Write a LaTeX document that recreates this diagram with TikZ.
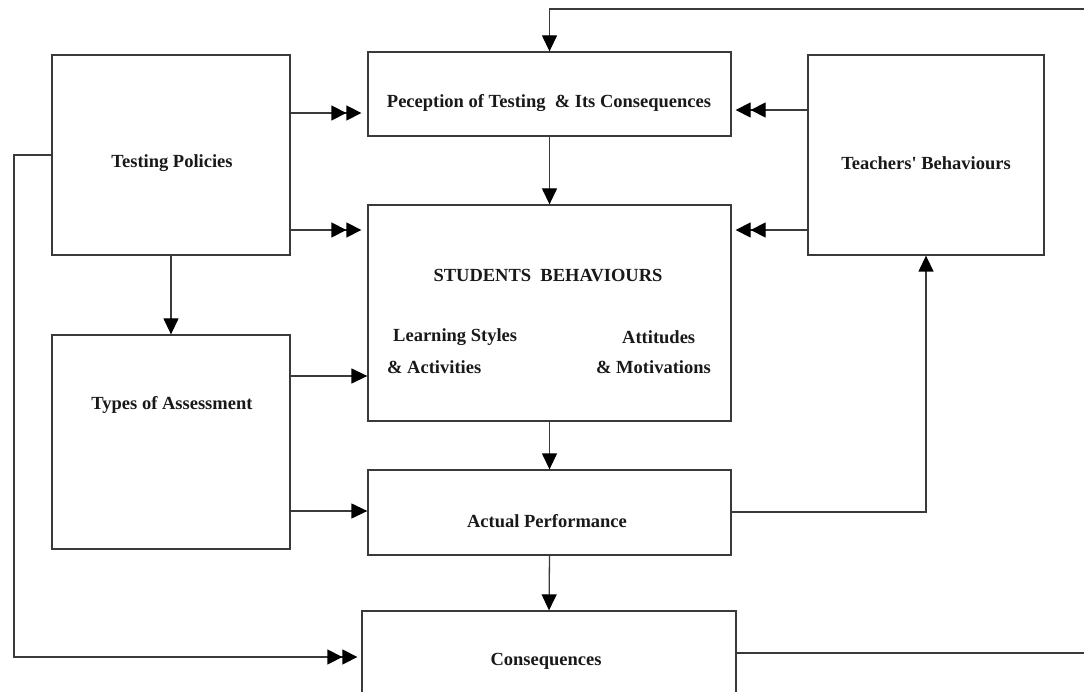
\documentclass[tikz,border=0pt]{standalone}
\usepackage{fontspec}
\setmainfont{Liberation Serif}
\newfontfamily\quotefont{Liberation Serif}
\usetikzlibrary{arrows.meta,calc}
\definecolor{linec}{HTML}{3A3A3A}
\begin{document}
\begin{tikzpicture}[x=1pt,y=-1pt,
  box/.style={draw=linec,line width=1.3pt,inner sep=0pt},
  txt/.style={inner sep=0pt,font=\bfseries\fontsize{18.5}{22}\selectfont,text=black!90},
  conn/.style={draw=linec,line width=1.3pt},
  arr/.style={conn,-{Triangle[length=16pt,width=15pt,color=black]}},
  dbl/.style={conn,-{Triangle[length=15pt,width=15pt,color=black]Triangle[length=15pt,width=15pt,color=black]}}]
\clip (0,0) rectangle (1084,692);
\fill[white] (0,0) rectangle (1084,692);
% boxes
\node[box,minimum width=238pt,minimum height=200pt] (tp) at (171,155) {};
\node[box,minimum width=363pt,minimum height=84pt] (perc) at (549.5,94) {};
\node[box,minimum width=236pt,minimum height=200pt] (tb) at (926,155) {};
\node[box,minimum width=363pt,minimum height=216pt] (stu) at (549.5,313) {};
\node[box,minimum width=238pt,minimum height=214pt] (ta) at (171,442) {};
\node[box,minimum width=363pt,minimum height=85pt] (act) at (549.5,512.5) {};
\node[box,minimum width=374pt,minimum height=98pt] (cons) at (549,660) {};
% texts
\node[txt] (tpT) at (172,163) {Testing Policies};
\node[txt] (percT) at (549,103) {Peception of Testing~~\& Its Consequences};
\node[txt] (tbT) at (926,163) {Teachers{\quotefont\bfseries '} Behaviours};
\node[txt] (stuT) at (548,276) {STUDENTS~~BEHAVIOURS};
\node[txt,anchor=west] (ls) at (393,337) {Learning Styles};
\node[txt,anchor=west] (la) at (387,367) {\& Activities};
\node[txt,anchor=west] (at) at (622,337) {Attitudes};
\node[txt,anchor=west] (am) at (596,367) {\& Motivations};
\node[txt] (taT) at (172,405) {Types of Assessment};
\node[txt] (actT) at (547,521) {Actual Performance};
\node[txt] (consT) at (546,661) {Consequences};
% free ends
\coordinate (topR) at (1084,9);
\coordinate (consR) at (1084,653);
\coordinate (lft) at (14,657);
% connectors
\draw[dbl,shorten >=6pt] (tp.east |- 0,113) -- (perc.west |- 0,113);
\draw[dbl,shorten >=6pt] (tp.east |- 0,230) -- (stu.west |- 0,230);
\draw[dbl,shorten >=4pt] (tb.west |- 0,110) -- (perc.east |- 0,110);
\draw[dbl,shorten >=4pt] (tb.west |- 0,230) -- (stu.east |- 0,230);
\draw[arr] (topR) -- (topR -| perc.north) -- (perc.north);
\draw[arr] (perc.south) -- (stu.north);
\draw[arr] (stu.south) -- (act.north);
\draw[arr] (act.south) -- (cons.north);
\draw[arr] (tp.south) -- (ta.north);
\draw[arr] (ta.east |- 0,376) -- (stu.west |- 0,376);
\draw[arr] (ta.east |- 0,511) -- (act.west |- 0,511);
\draw[arr] (act.east |- 0,512) -| (tb.south);
\draw[dbl,shorten >=4pt] (tp.west) -- (tp.west -| lft) -- (lft) -- (cons.west |- lft);
\draw[conn] (cons.east |- consR) -- (consR);
\end{tikzpicture}
\end{document}
